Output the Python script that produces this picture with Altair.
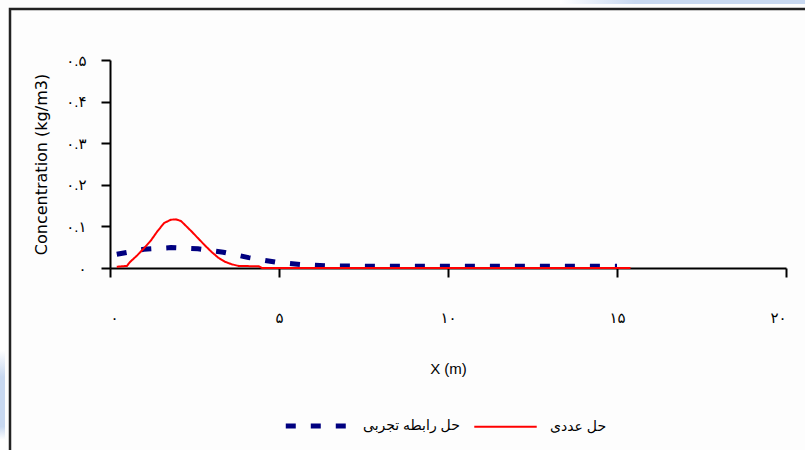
import altair as alt
import pandas as pd

# Numerical solution (red curve)
num_x = [0.2, 0.5, 0.6, 0.8, 1.0, 1.2, 1.4, 1.6, 1.8, 1.95, 2.1, 2.2, 2.4, 2.6, 2.8, 3.0, 3.2, 3.4, 3.6, 3.8, 4.4, 4.5, 15.4]
num_y = [0.003, 0.005, 0.015, 0.030, 0.047, 0.065, 0.088, 0.108, 0.116, 0.117, 0.113, 0.105, 0.089, 0.072, 0.055, 0.039, 0.025, 0.015, 0.009, 0.005, 0.004, 0.0, 0.0]

# Empirical relation (blue dashed curve)
emp_x = [0.2, 1.0, 1.8, 2.6, 3.35, 4.1, 4.9, 5.7, 6.4, 8.0, 15.0]
emp_y = [0.033, 0.045, 0.049, 0.046, 0.038, 0.025, 0.014, 0.008, 0.005, 0.004, 0.004]

series_names = ["حل رابطه تجربی", "حل عددی"]
series_colors = ["#000080", "#ff0000"]

x_ticks = [0, 5, 10, 15, 20]
x_labels = ["۰", "۵", "۱۰", "۱۵", "۲۰"]
y_ticks = [0, 0.1, 0.2, 0.3, 0.4, 0.5]
y_labels = ["۰", "۰.۱", "۰.۲", "۰.۳", "۰.۴", "۰.۵"]

df = pd.concat([
    pd.DataFrame({"x": emp_x, "y": emp_y, "series": series_names[0], "o": range(len(emp_x))}),
    pd.DataFrame({"x": num_x, "y": num_y, "series": series_names[1], "o": range(len(num_x))}),
])


def label_expr(ticks, labels, mult):
    parts = []
    for t, l in zip(ticks, labels):
        parts.append(f"round(datum.value*{mult}) == {round(t * mult)} ? '{l}' : ")
    return "".join(parts) + "''"


FONT = "Liberation Sans, Arial, DejaVu Sans"
WIDE = "DejaVu Sans"

lines = alt.Chart(df).mark_line(clip=False).encode(
    x=alt.X("x:Q", scale=alt.Scale(domain=[0, 20], nice=False),
            axis=alt.Axis(values=x_ticks, title="X (m)",
                          labelExpr=label_expr(x_ticks, x_labels, 1),
                          labelPadding=33, titlePadding=36)),
    y=alt.Y("y:Q", scale=alt.Scale(domain=[0, 0.5], nice=False),
            axis=alt.Axis(values=y_ticks, title="Concentration (kg/m3)",
                          labelExpr=label_expr(y_ticks, y_labels, 10),
                          labelPadding=15, titlePadding=16,
                          titleFont=WIDE, titleFontSize=16)),
    order="o:Q",
    color=alt.Color("series:N", sort=series_names,
                    scale=alt.Scale(domain=series_names, range=series_colors),
                    legend=alt.Legend(title=None)),
    strokeDash=alt.StrokeDash("series:N", sort=series_names,
                              scale=alt.Scale(domain=series_names, range=[[10, 15], [1, 0]]),
                              legend=alt.Legend(title=None)),
    strokeWidth=alt.StrokeWidth("series:N", sort=series_names,
                                scale=alt.Scale(domain=series_names, range=[5, 2]),
                                legend=alt.Legend(title=None)),
)

one = pd.DataFrame({"k": [0]})

frame = alt.Chart(one).mark_rect(filled=False, stroke="#222222", strokeWidth=2.5).encode(
    x=alt.value(-100), y=alt.value(-51), x2=alt.value(710), y2=alt.value(400)
)

top_band = alt.Chart(one).mark_rect(
    fill=alt.LinearGradient(gradient="linear", x1=0, x2=1, y1=0, y2=0,
                            stops=[alt.GradientStop(color="#ffffff", offset=0),
                                   alt.GradientStop(color="#c8d8f0", offset=0.3),
                                   alt.GradientStop(color="#c8d8f0", offset=1)])
).encode(x=alt.value(450), y=alt.value(-62), x2=alt.value(700), y2=alt.value(-56))

left_band = alt.Chart(one).mark_rect(
    fill=alt.LinearGradient(gradient="linear", x1=0, x2=0, y1=0, y2=1,
                            stops=[alt.GradientStop(color="#ffffff", offset=0),
                                   alt.GradientStop(color="#c8d8f0", offset=0.3),
                                   alt.GradientStop(color="#c8d8f0", offset=0.85),
                                   alt.GradientStop(color="#ffffff", offset=1)])
).encode(x=alt.value(-112), y=alt.value(290), x2=alt.value(-105), y2=alt.value(380))

chart = alt.layer(top_band, left_band, frame, lines).properties(
    width=676, height=208,
    autosize=alt.AutoSizeParams(type="none"),
    padding={"left": 110, "top": 60, "right": 19, "bottom": 182},
    background="#fdfdfd",
).configure_view(stroke=None).configure_axis(
    domainColor="black", domainWidth=2, tickColor="black", tickWidth=2, tickSize=9,
    grid=False, labelFont=FONT, labelFontSize=15, labelColor="black",
    titleFont=FONT, titleFontSize=15, titleFontWeight="normal", titleColor="black",
).configure_legend(
    orient="none", legendX=173, legendY=332, direction="horizontal",
    symbolType="stroke", symbolSize=3900, labelFont=FONT, labelFontSize=14,
    labelColor="black", labelOffset=12, columnPadding=10, padding=0,
)

chart.save("out.html", embed_options={"renderer": "svg", "actions": False})
